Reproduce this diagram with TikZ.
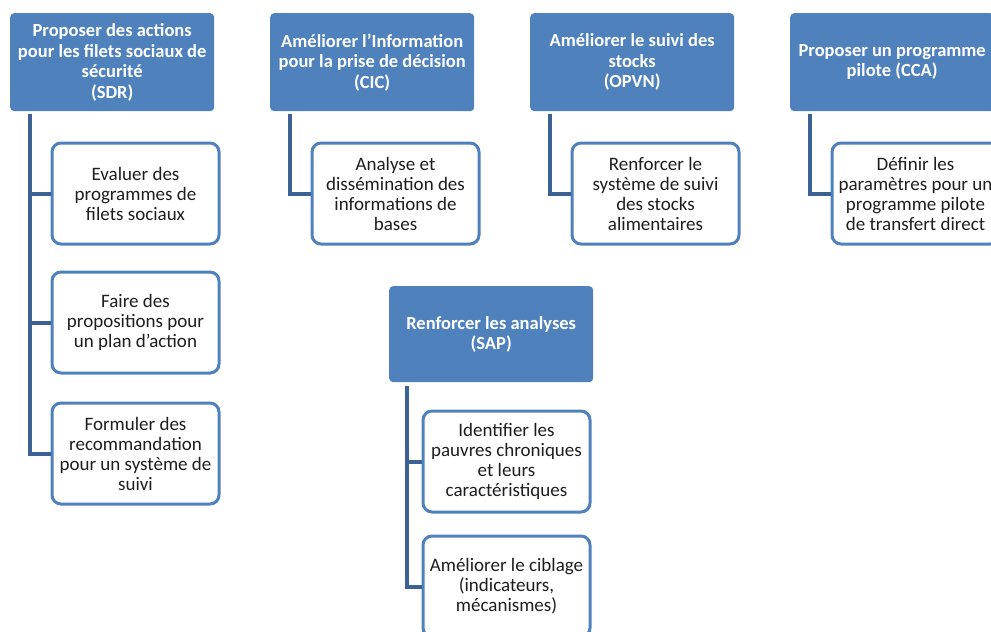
\documentclass[tikz,border=0pt]{standalone}
\usepackage{fontspec}
\setmainfont{Carlito}
\definecolor{hdrblue}{RGB}{79,129,189}
\definecolor{connblue}{RGB}{60,98,148}
\definecolor{txtgray}{RGB}{30,30,30}
\tikzset{
  hdr/.style={draw=none, fill=hdrblue, rounded corners=4pt, anchor=north west,
    minimum width=204pt, minimum height=98pt, align=center, text=white,
    font=\fontsize{18.5}{20.5}\selectfont\bfseries, inner sep=0pt},
  sub/.style={draw=hdrblue, line width=3pt, fill=white, rounded corners=9pt, anchor=north west,
    minimum width=167pt, minimum height=101pt, align=center, text=txtgray,
    font=\fontsize{19}{20}\selectfont, inner sep=0pt},
  conn/.style={draw=connblue, line width=4pt}
}
\begin{document}
\begin{tikzpicture}[x=1pt,y=-1pt]
\useasboundingbox (0,0) rectangle (991,632);
% headers
\node[hdr] (sdr) at (10,13) {Proposer des actions\\pour les filets sociaux de\\sécurité\\(SDR)};
\node[hdr] (cic) at (270,13) {Améliorer l’Information\\pour la prise de décision\\(CIC)};
\node[hdr] (opvn) at (530,13) {Améliorer le suivi des\\stocks\\(OPVN)};
\node[hdr] (cca) at (790,13) {Proposer un programme\\pilote (CCA)};
\node[hdr, minimum height=96pt] (sap) at (389,286) {Renforcer les analyses\\(SAP)};
% children
\node[sub] (s1) at (50.5,141.5) {Evaluer des\\programmes de\\filets sociaux};
\node[sub] (s2) at (50.5,270.5) {Faire des\\propositions pour\\un plan d’action};
\node[sub] (s3) at (50.5,401.5) {Formuler des\\recommandation\\pour un système de\\suivi};
\node[sub] (c1) at (310.5,141.5) {Analyse et\\dissémination des\\informations de\\bases};
\node[sub] (o1) at (570.5,141.5) {Renforcer le\\système de suivi\\des stocks\\alimentaires};
\node[sub] (k1) at (830.5,141.5) {Définir les\\paramètres pour un\\programme pilote\\de transfert direct};
\node[sub] (a1) at (421.5,409.5) {Identifier les\\pauvres chroniques\\et leurs\\caractéristiques};
\node[sub] (a2) at (421.5,534.5) {Améliorer le ciblage\\(indicateurs,\\mécanismes)};
% connectors
\coordinate (sdrt) at ([xshift=20pt,yshift=-3pt]sdr.south west);
\coordinate (cict) at ([xshift=20pt,yshift=-3pt]cic.south west);
\coordinate (opvt) at ([xshift=20pt,yshift=-3pt]opvn.south west);
\coordinate (ccat) at ([xshift=20pt,yshift=-3pt]cca.south west);
\coordinate (sapt) at ([xshift=18pt,yshift=-4pt]sap.south west);
\draw[conn] (sdrt) |- (s1.west);
\draw[conn] (sdrt) |- (s2.west);
\draw[conn] (sdrt) |- (s3.west);
\draw[conn] (cict) |- (c1.west);
\draw[conn] (opvt) |- (o1.west);
\draw[conn] (ccat) |- (k1.west);
\draw[conn] (sapt) |- (a1.west);
\draw[conn] (sapt) |- (a2.west);
\end{tikzpicture}
\end{document}
